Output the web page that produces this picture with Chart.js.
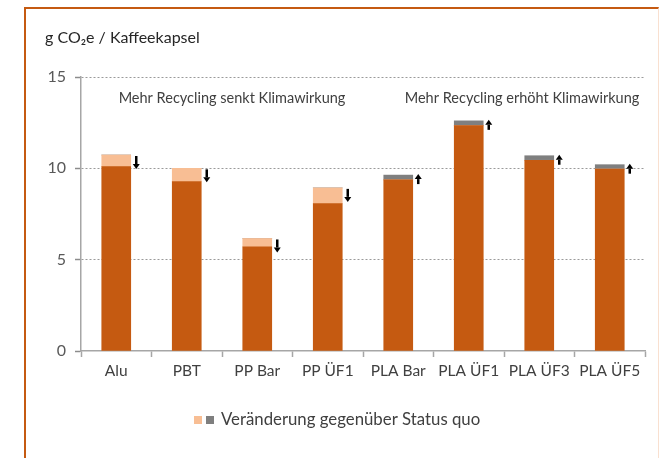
<!DOCTYPE html>
<html lang="de">
<head>
  <meta charset="UTF-8" />
  <title>Klimawirkung Kaffeekapseln</title>
  <script src="https://cdn.jsdelivr.net/npm/chart.js"></script>
  <style>
    body {
      margin: 0;
      background: #ffffff;
    }

    .wrap {
      position: relative;
      width: 659px;
      height: 458px;
      overflow: hidden;
    }

    .frame {
      position: absolute;
      left: 24px;
      top: 7px;
      width: 632px;
      height: 470px;
      border-top: 2px solid #c55a11;
      border-left: 2px solid #c55a11;
      border-right: 1px solid #f9e0d0;
    }

    canvas {
      position: absolute;
      left: 0;
      top: 0;
    }
  </style>
</head>
<body>
  <div class="wrap">
    <div class="frame"></div>
    <canvas id="capsuleChart" width="659" height="458"></canvas>
  </div>

  <script>
    const capsules = ['Alu', 'PBT', 'PP Bar', 'PP ÜF1', 'PLA Bar', 'PLA ÜF1', 'PLA ÜF3', 'PLA ÜF5'];
    // emissions with more recycling (g CO2e per capsule)
    const baseValues = [10.09, 9.28, 5.70, 8.07, 9.37, 12.34, 10.44, 9.96];
    // change versus status quo: reduction (light) and increase (grey)
    const reduction = [0.64, 0.72, 0.46, 0.86, 0, 0, 0, 0];
    const increase = [0, 0, 0, 0, 0.26, 0.26, 0.25, 0.24];
    const yTicks = [0, 5, 10, 15];

    const FONT = 'Lato, "Open Sans", sans-serif';

    // arrows, headings and legend drawn on top of the bars
    const overlay = {
      id: 'overlay',
      afterDatasetsDraw(chart) {
        const ctx = chart.ctx;
        const y = chart.scales.y;
        const bars = chart.getDatasetMeta(0).data;

        ctx.save();
        ctx.fillStyle = '#000000';
        bars.forEach((bar, i) => {
          const total = baseValues[i] + reduction[i] + increase[i];
          const top = y.getPixelForValue(total);
          const ax = bar.x + 20;
          if (reduction[i] > 0) {
            drawArrow(ctx, ax, top + 1, top + 14);
          } else {
            drawArrow(ctx, ax, top + 9, top - 1);
          }
        });
        ctx.restore();
      },
      afterDraw(chart) {
        const ctx = chart.ctx;
        ctx.save();
        ctx.textBaseline = 'middle';

        ctx.fillStyle = '#262626';
        ctx.font = '16px ' + FONT;
        ctx.textAlign = 'left';
        ctx.fillText('g CO₂e / Kaffeekapsel', 45, 38);

        ctx.fillStyle = '#404040';
        ctx.font = '14.5px ' + FONT;
        ctx.textAlign = 'center';
        ctx.fillText('Mehr Recycling senkt Klimawirkung', 232, 98);
        ctx.fillText('Mehr Recycling erhöht Klimawirkung', 522, 98);

        // legend
        ctx.fillStyle = '#f8be94';
        ctx.fillRect(194, 416, 8, 8);
        ctx.fillStyle = '#7f7f7f';
        ctx.fillRect(206, 416, 8, 8);
        ctx.fillStyle = '#404040';
        ctx.font = '16.8px ' + FONT;
        ctx.textAlign = 'left';
        ctx.fillText('Veränderung gegenüber Status quo', 221, 420);
        ctx.restore();
      }
    };

    function drawArrow(ctx, x, from, to) {
      const dir = to > from ? 1 : -1;
      const head = 5;
      ctx.fillRect(x - 1.25, Math.min(from, to - dir * head), 2.5, Math.abs(to - from) - head);
      ctx.beginPath();
      ctx.moveTo(x - 3.5, to - dir * head);
      ctx.lineTo(x + 3.5, to - dir * head);
      ctx.lineTo(x, to);
      ctx.closePath();
      ctx.fill();
    }

    new Chart(document.getElementById('capsuleChart'), {
      type: 'bar',
      data: {
        labels: capsules,
        datasets: [
          { label: 'Mit Recycling', data: baseValues, backgroundColor: '#c55a11' },
          { label: 'Reduktion', data: reduction, backgroundColor: '#f8be94' },
          { label: 'Zunahme', data: increase, backgroundColor: '#7f7f7f' }
        ]
      },
      options: {
        responsive: false,
        animation: false,
        layout: { padding: { top: 77, right: 14, bottom: 0, left: 0 } },
        datasets: { bar: { barThickness: 29, borderWidth: 0 } },
        plugins: {
          legend: { display: false },
          tooltip: { enabled: false }
        },
        scales: {
          x: {
            stacked: true,
            grid: {
              offset: true,
              drawOnChartArea: false,
              tickLength: 6,
              tickColor: '#a6a6a6',
              tickWidth: 1.5
            },
            border: { color: '#a6a6a6', width: 1.5 },
            ticks: {
              color: '#404040',
              font: { family: FONT, size: 15.5 },
              padding: 5
            },
            afterFit(scale) { scale.height = 107; }
          },
          y: {
            stacked: true,
            min: 0,
            max: 15,
            afterBuildTicks(scale) {
              scale.ticks = yTicks.map(v => ({ value: v }));
            },
            grid: {
              color: ctx => ctx.tick && ctx.tick.value === 0 ? 'rgba(0,0,0,0)' : '#9a9a9a',
              lineWidth: 1,
              tickLength: 6,
              tickColor: '#8c8c8c',
              tickWidth: 1.5
            },
            border: { color: '#a6a6a6', width: 1.5, dash: [2, 2] },
            ticks: {
              color: '#595959',
              font: { family: FONT, size: 16 },
              padding: 9
            },
            afterFit(scale) { scale.width = 81; }
          }
        }
      },
      plugins: [overlay]
    });
  </script>
</body>
</html>
